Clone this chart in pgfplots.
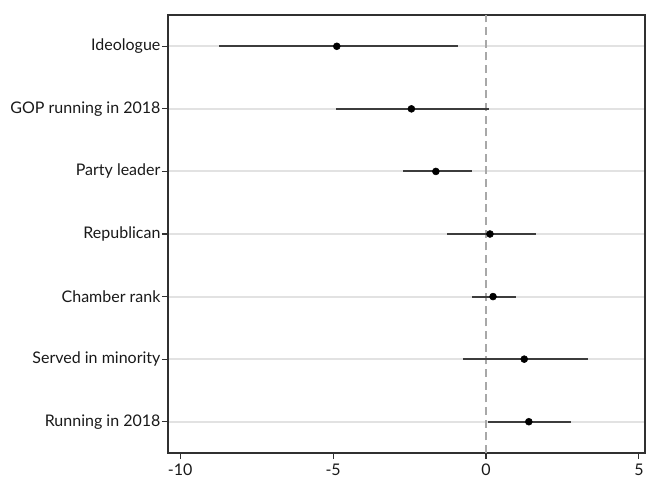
\documentclass[border=0pt]{standalone}
\usepackage{pgfplots}
\pgfplotsset{compat=1.18}
\usepackage{pgfplotstable}
\usepackage{fontspec}
\setmainfont{Lato}
\definecolor{cigray}{HTML}{3C3C3C}
\definecolor{gridgray}{HTML}{E2E2E2}
\definecolor{dashgray}{HTML}{A8A8A8}
\definecolor{axisgray}{HTML}{303030}
\pgfplotstableread{
y est lo hi
7 -4.88 -8.72 -0.93
6 -2.44 -4.92 0.09
5 -1.64 -2.73 -0.46
4 0.13 -1.29 1.62
3 0.23 -0.46 0.97
2 1.25 -0.74 3.33
1 1.40 0.05 2.79
}\coef
\begin{document}
\begin{tikzpicture}
\path (-126pt,-19.5pt) rectangle (360pt,339.75pt);
\begin{axis}[
  at={(0,0)}, anchor=south west,
  scale only axis, width=357.75pt, height=328.5pt,
  xmin=-10.4, xmax=5.2, ymin=0.5, ymax=7.5,
  axis line style={line width=1.2pt, color=axisgray},
  ytick={1,2,3,4,5,6,7},
  yticklabels={Running in 2018, Served in minority, Chamber rank, Republican, Party leader, GOP running in 2018, Ideologue},
  xtick={-10,-5,0,5},
  xticklabels={-10,-5,0,5},
  tick align=outside, xtick pos=bottom, ytick pos=left,
  major tick length=4.5pt,
  tick style={line width=0.9pt, color=axisgray},
  ymajorgrids,
  grid style={line width=1.4pt, color=gridgray},
  yticklabel style={font=\fontsize{12}{14}\selectfont, text=black!90, inner sep=1pt},
  xticklabel style={font=\fontsize{12}{14}\selectfont, text=black!90, inner sep=1pt, yshift=-2.5pt},
  clip=true,
]
\addplot[dashgray, line width=1pt, dash pattern=on 6pt off 3.5pt, forget plot] coordinates {(0,0.5) (0,7.5)};
\addplot[draw=none, mark=none,
  error bars/.cd, x dir=both, x explicit, error mark=none,
  error bar style={line width=1.6pt, color=cigray}]
  table[x=est, y=y,
        x error plus expr=\thisrow{hi}-\thisrow{est},
        x error minus expr=\thisrow{est}-\thisrow{lo}] {\coef};
\addplot[only marks, mark=*, mark size=2.6pt, mark options={fill=black, draw=black}]
  table[x=est, y=y] {\coef};
\end{axis}
\end{tikzpicture}
\end{document}
